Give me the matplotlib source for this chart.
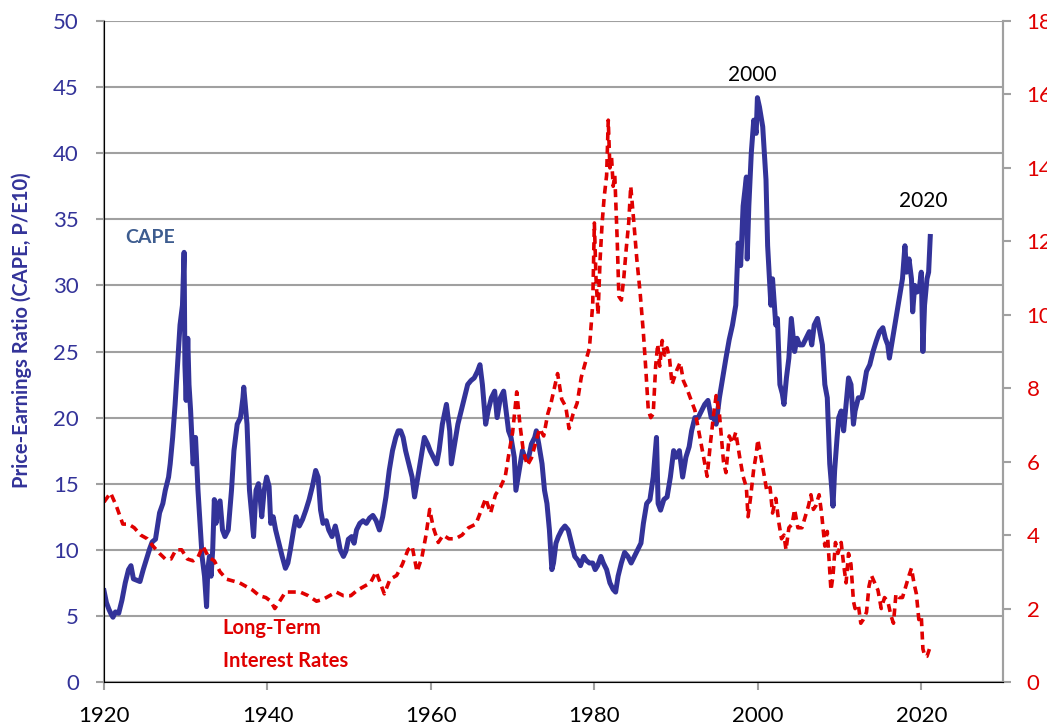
import matplotlib
matplotlib.use("Agg")
import matplotlib.pyplot as plt

# CAPE (Shiller P/E10)
cape_years = [
    1920.0, 1920.3, 1920.6, 1920.9, 1921.1, 1921.4, 1921.8, 1922.2, 1922.6, 1923.0,
    1923.3, 1923.6, 1924.0, 1924.4, 1924.8, 1925.2, 1925.6, 1925.9, 1926.3, 1926.8,
    1927.2, 1927.5, 1927.9, 1928.1, 1928.4, 1928.7, 1929.0, 1929.3, 1929.6, 1929.8,
    1929.9, 1930.05, 1930.25, 1930.4, 1930.6, 1930.9, 1931.2, 1931.5, 1931.8, 1932.0,
    1932.3, 1932.55, 1932.7, 1932.9, 1933.1, 1933.3, 1933.5, 1933.7, 1934.0, 1934.2,
    1934.5, 1934.8, 1935.2, 1935.6, 1935.9, 1936.3, 1936.7, 1937.0, 1937.1, 1937.5,
    1937.8, 1938.1, 1938.3, 1938.6, 1938.9, 1939.1, 1939.3, 1939.6, 1939.9, 1940.2,
    1940.4, 1940.7, 1941.0, 1941.4, 1941.8, 1942.2, 1942.5, 1942.8, 1943.2, 1943.5,
    1943.9, 1944.3, 1944.7, 1945.1, 1945.5, 1945.9, 1946.2, 1946.5, 1946.8, 1947.2,
    1947.5, 1947.9, 1948.3, 1948.6, 1948.9, 1949.3, 1949.6, 1949.9, 1950.3, 1950.6,
    1950.9, 1951.3, 1951.7, 1952.1, 1952.5, 1952.9, 1953.3, 1953.7, 1954.1, 1954.5,
    1954.9, 1955.3, 1955.7, 1956.0, 1956.3, 1956.6, 1956.9, 1957.3, 1957.7, 1958.0,
    1958.4, 1958.8, 1959.2, 1959.6, 1959.9, 1960.3, 1960.7, 1961.0, 1961.4, 1961.9,
    1962.3, 1962.5, 1962.9, 1963.3, 1963.7, 1964.1, 1964.5, 1964.9, 1965.3, 1965.7,
    1966.0, 1966.3, 1966.7, 1967.0, 1967.4, 1967.8, 1968.1, 1968.5, 1968.9, 1969.2,
    1969.5, 1969.8, 1970.2, 1970.4, 1970.8, 1971.2, 1971.5, 1971.9, 1972.3, 1972.7,
    1972.9, 1973.2, 1973.6, 1973.9, 1974.2, 1974.5, 1974.8, 1975.0, 1975.3, 1975.6,
    1976.0, 1976.4, 1976.8, 1977.2, 1977.6, 1978.0, 1978.3, 1978.7, 1979.0, 1979.4,
    1979.8, 1980.1, 1980.4, 1980.8, 1981.1, 1981.5, 1981.9, 1982.3, 1982.6, 1982.9,
    1983.3, 1983.7, 1984.1, 1984.5, 1984.9, 1985.3, 1985.7, 1986.0, 1986.4, 1986.8,
    1987.2, 1987.6, 1987.8, 1988.1, 1988.5, 1988.9, 1989.3, 1989.7, 1990.0, 1990.4,
    1990.8, 1991.2, 1991.6, 1991.9, 1992.3, 1992.7, 1993.1, 1993.5, 1993.9, 1994.3,
    1994.6, 1994.9, 1995.3, 1995.7, 1996.1, 1996.5, 1996.9, 1997.3, 1997.6, 1997.9,
    1998.2, 1998.6, 1998.7, 1998.9, 1999.2, 1999.5, 1999.8, 1999.95, 2000.2, 2000.6,
    2001.0, 2001.2, 2001.6, 2001.8, 2002.2, 2002.4, 2002.7, 2003.0, 2003.2, 2003.5,
    2003.8, 2004.1, 2004.5, 2004.8, 2005.1, 2005.5, 2005.9, 2006.3, 2006.6, 2006.9,
    2007.3, 2007.6, 2007.9, 2008.2, 2008.5, 2008.8, 2009.0, 2009.2, 2009.4, 2009.7,
    2009.9, 2010.2, 2010.5, 2010.8, 2011.1, 2011.4, 2011.7, 2011.9, 2012.3, 2012.7,
    2012.9, 2013.3, 2013.7, 2014.1, 2014.5, 2014.9, 2015.3, 2015.6, 2015.9, 2016.1,
    2016.5, 2016.9, 2017.3, 2017.7, 2018.0, 2018.2, 2018.5, 2018.8, 2018.95, 2019.2,
    2019.5, 2019.8, 2020.0, 2020.2, 2020.4, 2020.7, 2020.9, 2021.1,
]
cape_vals = [
    6.9, 6.0, 5.5, 5.1, 4.9, 5.3, 5.2, 6.2, 7.5, 8.5,
    8.8, 7.8, 7.7, 7.6, 8.5, 9.3, 10.1, 10.6, 10.8, 12.8,
    13.5, 14.5, 15.5, 16.5, 18.5, 21.0, 24.0, 27.0, 28.5, 32.5,
    24.0, 21.3, 26.0, 22.5, 20.5, 16.5, 18.5, 14.5, 11.5, 9.5,
    8.0, 5.7, 8.5, 9.5, 8.0, 10.0, 13.8, 12.0, 13.5, 13.7,
    11.5, 11.0, 11.5, 14.5, 17.5, 19.5, 20.0, 21.5, 22.3, 19.5,
    14.5, 12.5, 11.0, 14.5, 15.0, 14.0, 12.5, 14.5, 15.5, 14.8,
    12.0, 12.5, 11.5, 10.5, 9.5, 8.6, 9.0, 10.0, 11.5, 12.5,
    11.8, 12.3, 13.0, 13.8, 14.8, 16.0, 15.5, 13.0, 12.0, 12.2,
    11.5, 11.0, 11.8, 11.0, 10.0, 9.5, 9.9, 10.8, 11.0, 10.5,
    11.5, 12.0, 12.2, 12.0, 12.4, 12.6, 12.2, 11.5, 12.5, 14.0,
    16.0, 17.5, 18.5, 19.0, 19.0, 18.5, 17.5, 16.5, 15.5, 14.0,
    15.5, 17.0, 18.5, 18.0, 17.5, 17.0, 16.5, 17.5, 19.5, 21.0,
    19.0, 16.5, 18.0, 19.5, 20.5, 21.5, 22.5, 22.8, 23.0, 23.5,
    24.0, 22.5, 19.5, 20.5, 21.5, 22.0, 20.0, 21.5, 22.0, 20.5,
    19.0, 18.5, 17.0, 14.5, 16.0, 17.5, 17.0, 16.8, 18.0, 18.5,
    19.0, 18.0, 16.5, 14.5, 13.5, 11.5, 8.5, 9.0, 10.5, 11.0,
    11.5, 11.8, 11.5, 10.5, 9.5, 9.2, 8.8, 9.5, 9.2, 9.0,
    9.0, 8.5, 8.8, 9.5, 9.0, 8.5, 7.5, 7.0, 6.8, 8.0,
    9.0, 9.8, 9.5, 9.0, 9.5, 10.0, 10.5, 12.0, 13.5, 13.8,
    15.5, 18.5, 13.5, 13.0, 13.8, 14.0, 15.5, 17.5, 17.0, 17.5,
    15.5, 17.0, 17.8, 19.0, 20.0, 20.0, 20.5, 21.0, 21.3, 20.0,
    20.0, 19.5, 21.5, 23.0, 24.5, 25.9, 27.0, 28.5, 33.2, 31.5,
    36.0, 38.2, 32.0, 36.0, 40.0, 42.5, 41.5, 44.2, 43.5, 42.0,
    38.0, 33.0, 28.5, 30.5, 27.0, 27.5, 22.5, 21.8, 21.0, 23.0,
    24.5, 27.5, 25.0, 26.0, 25.5, 25.5, 26.0, 26.5, 25.5, 27.0,
    27.5, 26.5, 25.5, 22.5, 21.5, 16.5, 15.0, 13.3, 16.0, 18.5,
    20.0, 20.5, 19.0, 21.0, 23.0, 22.5, 19.5, 20.5, 21.5, 21.5,
    22.0, 23.5, 24.0, 25.0, 25.8, 26.5, 26.8, 26.0, 25.5, 24.5,
    26.0, 27.5, 29.0, 30.5, 33.0, 31.0, 32.0, 30.5, 28.0, 30.0,
    29.5, 30.0, 31.0, 25.0, 28.5, 30.5, 31.0, 33.7,
]

# Long-term interest rates (%), right axis
rate_years = [
    1920.0, 1920.8, 1921.5, 1922.3, 1923.0, 1923.7, 1924.5, 1925.3, 1926.0, 1926.8,
    1927.5, 1928.2, 1928.8, 1929.5, 1930.2, 1930.9, 1931.5, 1932.1, 1932.8, 1933.5,
    1934.2, 1935.0, 1935.8, 1936.6, 1937.4, 1938.2, 1939.0, 1939.8, 1940.4, 1940.9,
    1941.5, 1942.2, 1943.0, 1944.0, 1945.0, 1946.0, 1946.8, 1947.6, 1948.4, 1949.3,
    1950.2, 1951.0, 1951.8, 1952.6, 1953.3, 1953.8, 1954.3, 1955.0, 1955.8, 1956.5,
    1957.2, 1957.7, 1958.3, 1958.9, 1959.4, 1959.85, 1960.3, 1960.9, 1961.5, 1962.2,
    1963.0, 1963.8, 1964.6, 1965.5, 1966.2, 1966.7, 1967.3, 1967.9, 1968.5, 1969.1,
    1969.6, 1970.0, 1970.5, 1970.9, 1971.3, 1971.8, 1972.3, 1972.8, 1973.3, 1973.8,
    1974.3, 1974.7, 1975.1, 1975.5, 1976.0, 1976.5, 1976.9, 1977.4, 1977.9, 1978.4,
    1978.9, 1979.4, 1979.8, 1980.0, 1980.2, 1980.45, 1980.7, 1980.95, 1981.2, 1981.5,
    1981.7, 1981.9, 1982.1, 1982.3, 1982.5, 1982.8, 1983.0, 1983.3, 1983.6, 1983.9,
    1984.2, 1984.45, 1984.8, 1985.2, 1985.6, 1986.0, 1986.3, 1986.6, 1986.9, 1987.2,
    1987.5, 1987.75, 1988.0, 1988.3, 1988.6, 1988.9, 1989.2, 1989.5, 1989.8, 1990.1,
    1990.5, 1990.9, 1991.3, 1991.8, 1992.3, 1992.8, 1993.3, 1993.8, 1994.2, 1994.6,
    1994.9, 1995.3, 1995.8, 1996.1, 1996.5, 1996.9, 1997.3, 1997.8, 1998.2, 1998.6,
    1998.8, 1999.1, 1999.5, 1999.8, 2000.0, 2000.4, 2000.8, 2001.1, 2001.5, 2001.8,
    2002.2, 2002.6, 2002.9, 2003.2, 2003.45, 2003.8, 2004.2, 2004.5, 2004.9, 2005.4,
    2005.8, 2006.2, 2006.5, 2006.8, 2007.1, 2007.5, 2007.8, 2008.2, 2008.5, 2008.95,
    2009.2, 2009.5, 2009.8, 2010.2, 2010.5, 2010.8, 2011.1, 2011.4, 2011.7, 2011.9,
    2012.3, 2012.6, 2012.9, 2013.3, 2013.6, 2013.9, 2014.3, 2014.7, 2015.1, 2015.5,
    2015.9, 2016.3, 2016.6, 2016.9, 2017.3, 2017.7, 2018.1, 2018.5, 2018.8, 2019.1,
    2019.4, 2019.7, 2020.0, 2020.2, 2020.45, 2020.7, 2021.0,
]
rate_vals = [
    4.9, 5.15, 4.8, 4.3, 4.3, 4.2, 4.0, 3.9, 3.7, 3.5,
    3.35, 3.35, 3.6, 3.6, 3.35, 3.3, 3.4, 3.7, 3.4, 3.3,
    3.0, 2.8, 2.75, 2.7, 2.6, 2.5, 2.35, 2.3, 2.2, 2.0,
    2.2, 2.45, 2.45, 2.45, 2.35, 2.2, 2.25, 2.35, 2.45, 2.35,
    2.35, 2.5, 2.6, 2.7, 3.0, 2.7, 2.4, 2.8, 2.9, 3.2,
    3.6, 3.7, 3.0, 3.4, 4.0, 4.7, 4.2, 3.8, 4.0, 3.9,
    3.9, 4.0, 4.2, 4.3, 4.7, 5.0, 4.6, 5.1, 5.3, 5.6,
    6.3, 6.8, 7.9, 7.0, 6.3, 5.9, 6.1, 6.5, 6.9, 6.7,
    7.3, 7.6, 8.0, 8.4, 7.7, 7.5, 6.9, 7.3, 7.6, 8.3,
    8.7, 9.1, 10.3, 12.5, 11.0, 10.0, 11.5, 12.5, 13.2, 13.8,
    15.3, 14.0, 14.3, 13.5, 13.8, 12.0, 10.5, 10.4, 11.0, 11.8,
    12.5, 13.5, 12.6, 11.5, 10.6, 9.5, 8.5, 7.4, 7.2, 7.3,
    8.6, 9.2, 8.6, 9.3, 8.9, 9.1, 8.8, 8.1, 8.3, 8.5,
    8.7, 8.2, 8.0, 7.7, 7.4, 6.8, 6.2, 5.6, 6.5, 7.3,
    7.8, 7.3, 6.0, 5.7, 6.7, 6.5, 6.8, 6.1, 5.6, 5.3,
    4.5, 5.0, 5.8, 6.2, 6.6, 6.1, 5.6, 5.2, 5.3, 4.6,
    5.0, 4.3, 3.9, 4.0, 3.6, 4.2, 4.3, 4.7, 4.2, 4.2,
    4.5, 4.8, 5.1, 4.7, 4.8, 5.1, 4.6, 3.7, 4.1, 2.5,
    2.9, 3.8, 3.5, 3.8, 3.2, 2.7, 3.5, 3.2, 2.2, 2.0,
    2.1, 1.6, 1.7, 1.9, 2.6, 2.9, 2.7, 2.5, 2.0, 2.3,
    2.2, 1.8, 1.6, 2.4, 2.3, 2.3, 2.6, 2.9, 3.1, 2.7,
    2.4, 1.7, 1.8, 0.9, 0.7, 0.7, 0.9,
]

cape_blue = "#333399"
rate_red = "#E00000"
grid_gray = "#A0A0A0"
tick_font = "Lato"

fig = plt.figure(figsize=(10.47, 7.23), dpi=100)
ax = fig.add_axes([104 / 1047, 1 - 682 / 723, (1003 - 104) / 1047, (682 - 21) / 723])

ax.plot(cape_years, cape_vals, color=cape_blue, linewidth=3.6, solid_joinstyle="round", zorder=3)
ax.set_xlim(1920, 2030)
ax.set_ylim(0, 50)
ax.set_yticks(range(0, 51, 5))
ax.set_xticks(range(1920, 2021, 20))
ax.yaxis.grid(True, color=grid_gray, linewidth=1.5)
ax.set_axisbelow(True)
for side in ["left", "bottom", "right"]:
    ax.spines[side].set_color(grid_gray)
    ax.spines[side].set_linewidth(1.5)
ax.spines["top"].set_visible(False)
ax.tick_params(axis="y", colors=grid_gray, labelcolor=cape_blue, length=6, width=1.5,
               pad=12, labelsize=16)
ax.tick_params(axis="x", colors=grid_gray, labelcolor="black", length=6, width=1.5,
               pad=11, labelsize=16)
for lab in ax.get_xticklabels() + ax.get_yticklabels():
    lab.set_fontfamily(tick_font)

# second axis for the interest rates
ax2 = ax.twinx()
ax2.plot(rate_years, rate_vals, color=rate_red, linewidth=2.6, dashes=(2.2, 1.5), zorder=2)
ax2.set_ylim(0, 18)
ax2.set_yticks(range(0, 19, 2))
ax2.spines["top"].set_visible(False)
ax2.spines["right"].set_color(grid_gray)
ax2.spines["right"].set_linewidth(1.5)
ax2.tick_params(axis="y", colors=grid_gray, labelcolor=rate_red, length=6, width=1.5,
                pad=11, labelsize=16)
for lab in ax2.get_yticklabels():
    lab.set_fontfamily(tick_font)

ax.text(22 / 1047, 1 - 330 / 723, "Price-Earnings Ratio (CAPE, P/E10)", transform=fig.transFigure,
        rotation=90, ha="center", va="center", fontsize=14.5, fontweight="bold",
        color=cape_blue, family=tick_font)
ax.text(1922.6, 33.6, "CAPE", fontsize=14, fontweight="bold", color="#3D5C8F",
        family=tick_font, ha="left", va="center")
ax.text(1934.5, 4.1, "Long-Term", fontsize=14.5, fontweight="bold", color=rate_red,
        family=tick_font, ha="left", va="center")
ax.text(1934.5, 1.6, "Interest Rates", fontsize=14.5, fontweight="bold", color=rate_red,
        family=tick_font, ha="left", va="center")
ax.text(1999.3, 45.9, "2000", fontsize=15, color="black", family=tick_font, ha="center", va="center")
ax.text(2020.3, 36.4, "2020", fontsize=15, color="black", family=tick_font, ha="center", va="center")

fig.savefig("out.png", dpi=100)
